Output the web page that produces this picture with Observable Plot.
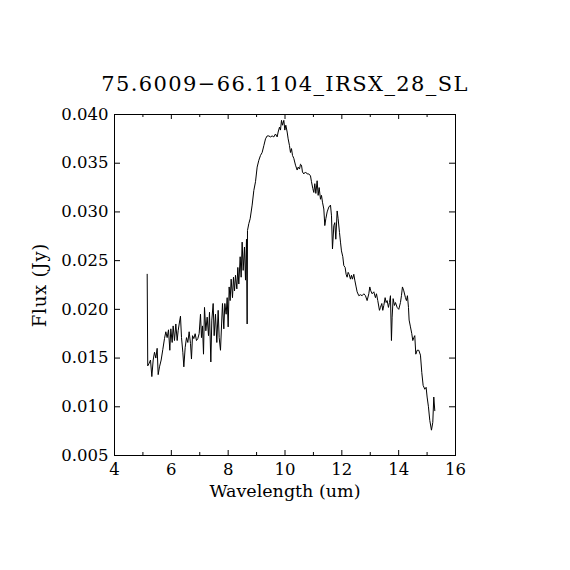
<!DOCTYPE html>
<html>
<head>
<meta charset="utf-8">
<script src="https://cdn.jsdelivr.net/npm/d3@7"></script>
<script src="https://cdn.jsdelivr.net/npm/@observablehq/plot@0.6"></script>
<style>
  html, body { margin: 0; padding: 0; background: #fff; }
</style>
</head>
<body>
<div id="chart"></div>
<script>
const chartTitle = "75.6009\u221266.1104_IRSX_28_SL";
const xLabel = "Wavelength (um)";
const yLabel = "Flux (Jy)";

const xMajorTicks = [4, 6, 8, 10, 12, 14, 16];
const xMinorTicks = [5, 7, 9, 11, 13, 15];
const yMajorTicks = [0.005, 0.010, 0.015, 0.020, 0.025, 0.030, 0.035, 0.040];

const wavelength = [
  5.150, 5.170, 5.208, 5.267, 5.314, 5.361, 5.408, 5.455, 5.501, 5.537,
  5.584, 5.642, 5.701, 5.759, 5.806, 5.853, 5.900, 5.947, 5.982, 6.029,
  6.064, 6.111, 6.158, 6.205, 6.240, 6.287, 6.322, 6.358, 6.405, 6.440,
  6.487, 6.534, 6.580, 6.627, 6.674, 6.709, 6.745, 6.792, 6.838, 6.885,
  6.932, 6.979, 7.026, 7.061, 7.097, 7.132, 7.167, 7.214, 7.261, 7.308,
  7.343, 7.390, 7.425, 7.472, 7.507, 7.554, 7.601, 7.648, 7.683, 7.730,
  7.800, 7.847, 7.882, 7.929, 7.965, 8.000, 8.035, 8.070, 8.105, 8.152,
  8.187, 8.223, 8.258, 8.305, 8.340, 8.375, 8.422, 8.457, 8.492, 8.528,
  8.574, 8.610, 8.645, 8.668, 8.680, 8.727, 8.774,
  8.844, 8.903, 8.962, 9.020, 9.079, 9.138, 9.196, 9.255, 9.314, 9.372,
  9.431, 9.489, 9.548, 9.607, 9.665, 9.724, 9.759, 9.806, 9.841, 9.877,
  9.912, 9.959, 9.994, 10.029, 10.076, 10.111, 10.158, 10.193, 10.228, 10.264,
  10.310, 10.369, 10.428, 10.463, 10.510, 10.545, 10.580, 10.615, 10.662, 10.721,
  10.780, 10.838, 10.897, 10.932, 10.979, 11.014, 11.049, 11.085, 11.131, 11.167,
  11.202, 11.249, 11.284, 11.319, 11.366, 11.401, 11.437, 11.483, 11.542, 11.601,
  11.636, 11.671, 11.718, 11.753, 11.788, 11.835, 11.870, 11.917, 11.953,
  11.987, 12.034, 12.069, 12.116, 12.151, 12.186, 12.222, 12.257, 12.304, 12.339,
  12.374, 12.421, 12.456, 12.503, 12.538, 12.597, 12.656, 12.714, 12.773, 12.832,
  12.890, 12.949, 12.984, 13.019, 13.066, 13.125, 13.183, 13.219, 13.265, 13.324,
  13.359, 13.406, 13.441, 13.477, 13.524, 13.559, 13.594, 13.641, 13.676, 13.711,
  13.746, 13.770, 13.805, 13.852, 13.887, 13.946, 14.004, 14.063, 14.098, 14.133,
  14.180, 14.239, 14.274, 14.309, 14.345, 14.368, 14.415, 14.462, 14.497, 14.532,
  14.567, 14.603, 14.650, 14.708, 14.767, 14.814, 14.861, 14.919, 14.966, 15.001,
  15.048, 15.095, 15.154, 15.201, 15.236, 15.271
];

const flux = [
  0.0236, 0.0142, 0.0144, 0.0148, 0.0131, 0.0148, 0.0156, 0.0150, 0.0160, 0.0133,
  0.0141, 0.0148, 0.0159, 0.0170, 0.0177, 0.0171, 0.0179, 0.0158, 0.0180, 0.0166,
  0.0183, 0.0168, 0.0185, 0.0168, 0.0178, 0.0187, 0.0193, 0.0171, 0.0156, 0.0141,
  0.0161, 0.0171, 0.0166, 0.0177, 0.0165, 0.0149, 0.0173, 0.0170, 0.0175, 0.0168,
  0.0170, 0.0175, 0.0195, 0.0171, 0.0183, 0.0154, 0.0202, 0.0178, 0.0192, 0.0173,
  0.0197, 0.0146, 0.0189, 0.0206, 0.0173, 0.0195, 0.0166, 0.0199, 0.0171, 0.0158,
  0.0206, 0.0180, 0.0206, 0.0195, 0.0212, 0.0182, 0.0223, 0.0209, 0.0231, 0.0212,
  0.0233, 0.0219, 0.0235, 0.0221, 0.0243, 0.0226, 0.0254, 0.0233, 0.0269, 0.0240,
  0.0264, 0.0230, 0.0272, 0.0185, 0.0281, 0.0288, 0.0293,
  0.0307, 0.0322, 0.0331, 0.0346, 0.0353, 0.0358, 0.0361, 0.0368, 0.0375, 0.0378,
  0.0378, 0.0377, 0.0378, 0.0377, 0.0380, 0.0377, 0.0382, 0.0387, 0.0384, 0.0394,
  0.0389, 0.0394, 0.0384, 0.0389, 0.0382, 0.0375, 0.0368, 0.0361, 0.0365, 0.0358,
  0.0355, 0.0348, 0.0343, 0.0346, 0.0344, 0.0349, 0.0348, 0.0341, 0.0339, 0.0341,
  0.0339, 0.0339, 0.0337, 0.0331, 0.0324, 0.0320, 0.0329, 0.0319, 0.0332, 0.0317,
  0.0325, 0.0313, 0.0317, 0.0310, 0.0303, 0.0286, 0.0293, 0.0300, 0.0305, 0.0307,
  0.0296, 0.0262, 0.0286, 0.0289, 0.0272, 0.0301, 0.0293, 0.0279, 0.0269,
  0.0260, 0.0254, 0.0245, 0.0243, 0.0236, 0.0233, 0.0238, 0.0236, 0.0231, 0.0235,
  0.0231, 0.0236, 0.0230, 0.0223, 0.0218, 0.0214, 0.0215, 0.0214, 0.0216, 0.0214,
  0.0209, 0.0216, 0.0223, 0.0219, 0.0216, 0.0218, 0.0212, 0.0216, 0.0209, 0.0199,
  0.0202, 0.0206, 0.0199, 0.0204, 0.0212, 0.0207, 0.0209, 0.0202, 0.0207, 0.0214,
  0.0168, 0.0192, 0.0211, 0.0204, 0.0207, 0.0202, 0.0200, 0.0207, 0.0214, 0.0223,
  0.0219, 0.0212, 0.0209, 0.0214, 0.0202, 0.0189, 0.0182, 0.0175, 0.0168, 0.0171,
  0.0173, 0.0154, 0.0158, 0.0158, 0.0153, 0.0135, 0.0122, 0.0118, 0.0120, 0.0110,
  0.0100, 0.0086, 0.0076, 0.0084, 0.0110, 0.0096
];

const spectrum = wavelength.map((w, i) => ({w, f: flux[i]}));

const W = 570, H = 570;
const mL = 114, mR = 115, mT = 114, mB = 115;
const innerW = W - mL - mR;
const innerH = H - mT - mB;
const ink = "#000";

const chart = Plot.plot({
  width: W,
  height: H,
  marginLeft: mL,
  marginRight: mR,
  marginTop: mT,
  marginBottom: mB,
  style: {fontFamily: "'DejaVu Serif', serif", fontSize: "16px", background: "#fff", color: ink},
  x: {domain: [4, 16]},
  y: {domain: [0.005, 0.040]},
  marks: [
    Plot.frame({stroke: ink, strokeWidth: 1}),
    // inward ticks: bottom/top major and minor
    Plot.tickX(xMajorTicks, {x: d => d, stroke: ink, insetTop: innerH - 5}),
    Plot.tickX(xMajorTicks, {x: d => d, stroke: ink, insetBottom: innerH - 5}),
    Plot.tickX(xMinorTicks, {x: d => d, stroke: ink, insetTop: innerH - 3}),
    Plot.tickX(xMinorTicks, {x: d => d, stroke: ink, insetBottom: innerH - 3}),
    // inward ticks: left/right
    Plot.tickY(yMajorTicks, {y: d => d, stroke: ink, insetRight: innerW - 6}),
    Plot.tickY(yMajorTicks, {y: d => d, stroke: ink, insetLeft: innerW - 6}),
    Plot.axisX({ticks: xMajorTicks, tickSize: 0, tickPadding: 8, tickFormat: d3.format("d"), label: null, fontSize: 16.5}),
    Plot.axisY({ticks: yMajorTicks, tickSize: 0, tickPadding: 6, tickFormat: d3.format(".3f"), label: null, fontSize: 16.5}),
    Plot.line(spectrum, {x: "w", y: "f", stroke: ink, strokeWidth: 1}),
    Plot.text([xLabel], {text: d => d, frameAnchor: "bottom", dy: 41, lineAnchor: "bottom", fontSize: 17.5, fill: ink}),
    Plot.text([yLabel], {text: d => d, frameAnchor: "left", dx: -69, rotate: -90, textAnchor: "middle", lineAnchor: "bottom", fontSize: 18, fill: ink}),
    Plot.text([chartTitle], {text: d => d, frameAnchor: "top", dy: -24, lineAnchor: "bottom", fontSize: 21, fill: ink})
  ]
});

document.getElementById("chart").appendChild(chart);

// widen the title letter spacing to mimic the original's wide stroke font
d3.select(chart).selectAll("text").filter(function () { return this.textContent === chartTitle; })
  .style("letter-spacing", "1.4px");
d3.select(chart).selectAll("text").filter(function () { return this.textContent === yLabel; })
  .style("letter-spacing", "0.8px");
</script>
</body>
</html>
